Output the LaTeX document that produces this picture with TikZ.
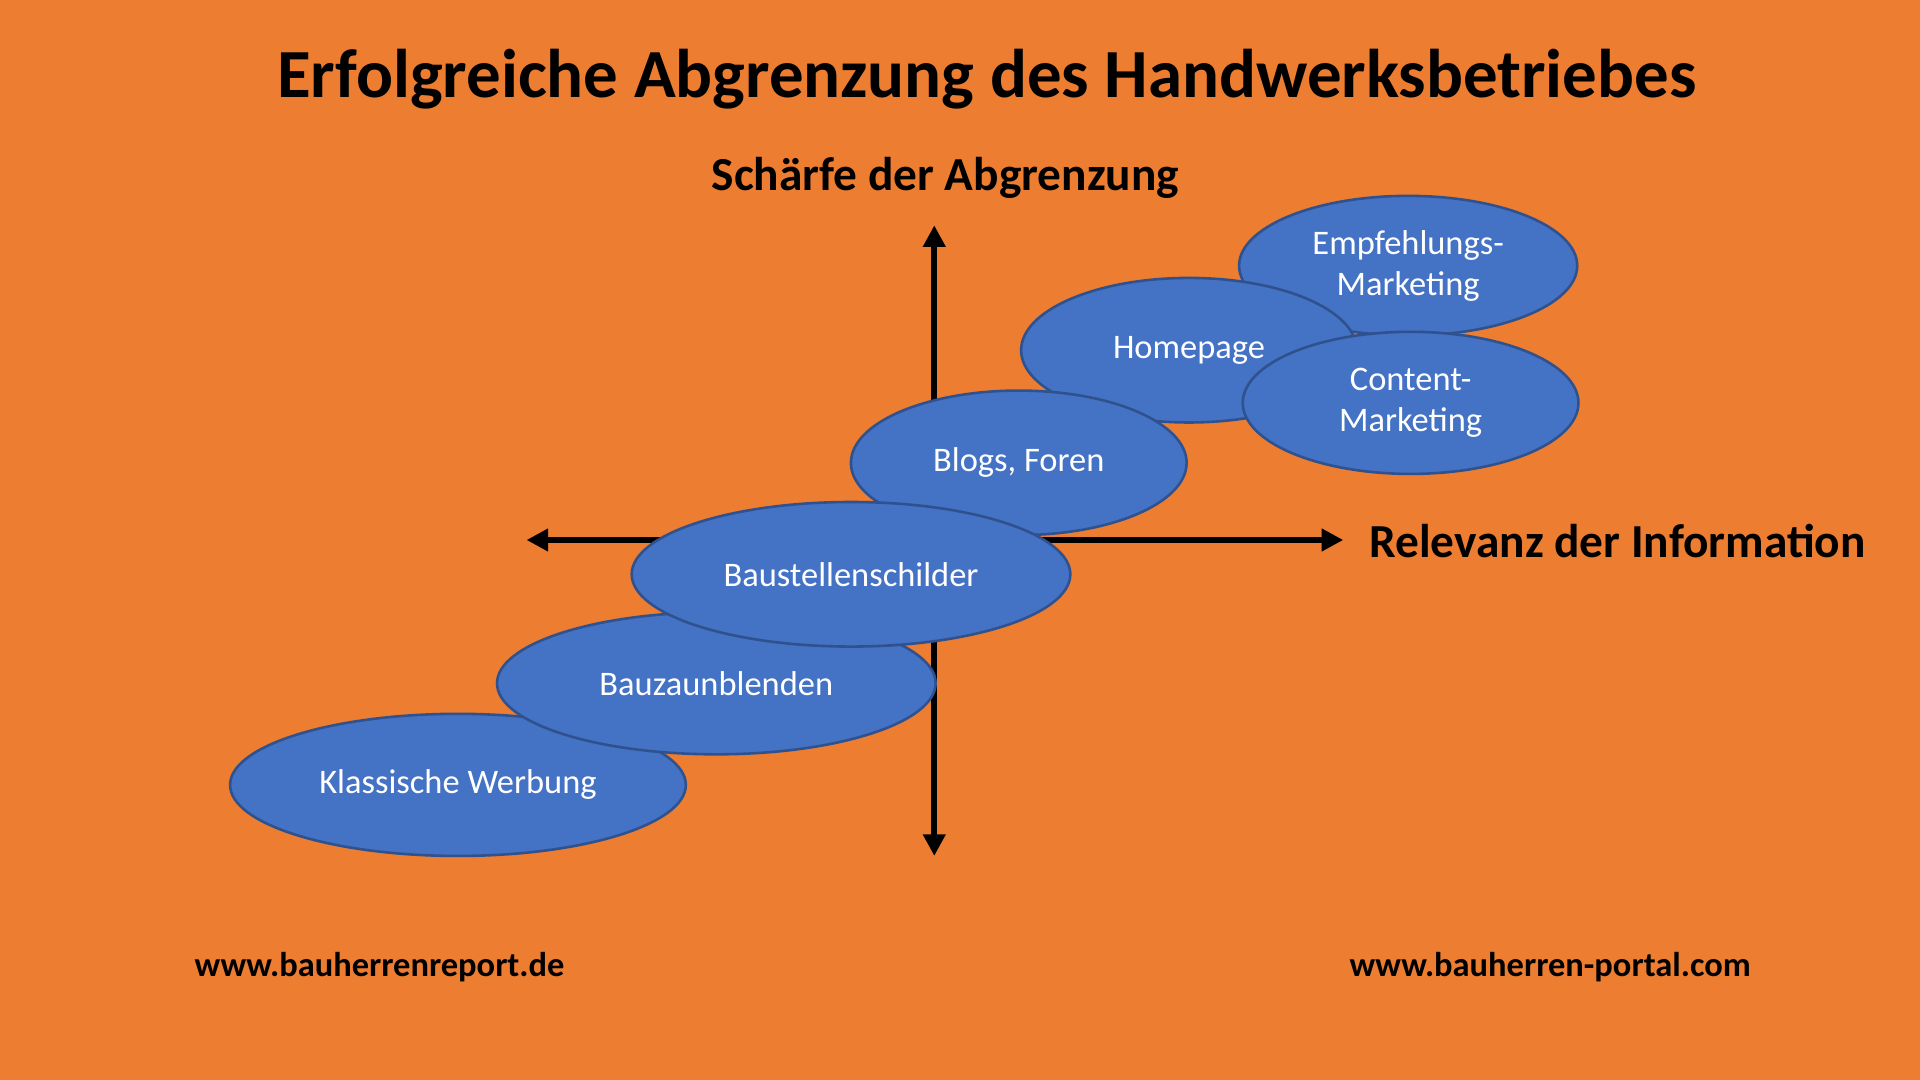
\documentclass[tikz,border=0pt]{standalone}
\usepackage{fontspec}
\setmainfont{Carlito}
\usetikzlibrary{arrows.meta}
\definecolor{bg}{HTML}{ED7D31}
\definecolor{ell}{HTML}{4472C4}
\definecolor{ellb}{HTML}{2F528F}
\tikzset{
  ov/.style={ellipse,draw=ellb,line width=0.6pt,fill=ell,text=white,font=\fontsize{8}{9.6}\selectfont,align=center,inner sep=0pt},
  axis/.style={line width=1.4pt,-{Triangle[length=5pt,width=5pt]}},
  lbl/.style={font=\bfseries\fontsize{11}{13}\selectfont},
  foot/.style={font=\bfseries\fontsize{8}{10}\selectfont}
}
\usetikzlibrary{shapes.geometric}
\begin{document}
\begin{tikzpicture}[x=0.01cm,y=-0.01cm]
\fill[bg] (0,0) rectangle (1568,882);
\useasboundingbox (0,0) rectangle (1568,882);
\node[font=\bfseries\fontsize{16}{19}\selectfont] (title) at (806,65) {Erfolgreiche Abgrenzung des Handwerksbetriebes};
\node[lbl] (ylab) at (772,145) {Schärfe der Abgrenzung};
\node[lbl,anchor=west] (xlab) at (1106,442) {Relevanz der Information};
\coordinate (o) at (763,441);
\coordinate (yt) at (763,184);
\coordinate (yb) at (763,699);
\coordinate (xl) at (430,441);
\coordinate (xr) at (1097,441);
\draw[axis] (o) -- (yt);
\draw[axis] (o) -- (yb);
\draw[axis] (o) -- (xl);
\draw[axis] (o) -- (xr);
\node[ov,minimum width=2.76cm,minimum height=1.14cm] (emp) at (1150,217) {Empfehlungs-\\Marketing};
\node[ov,minimum width=2.74cm,minimum height=1.18cm] (home) at (971,286) {Homepage};
\node[ov,minimum width=2.74cm,minimum height=1.16cm] (cont) at (1152,329) {Content-\\Marketing};
\node[ov,minimum width=2.74cm,minimum height=1.18cm] (blog) at (832,378) {Blogs, Foren};
\node[ov,minimum width=3.72cm,minimum height=1.16cm] (klass) at (374,641) {Klassische Werbung};
\node[ov,minimum width=3.58cm,minimum height=1.16cm] (zaun) at (585,558) {Bauzaunblenden};
\node[ov,minimum width=3.58cm,minimum height=1.18cm] (schild) at (695,469) {Baustellenschilder};
\node[foot] (f1) at (310,790) {www.bauherrenreport.de};
\node[foot] (f2) at (1266,790) {www.bauherren-portal.com};
\end{tikzpicture}
\end{document}
